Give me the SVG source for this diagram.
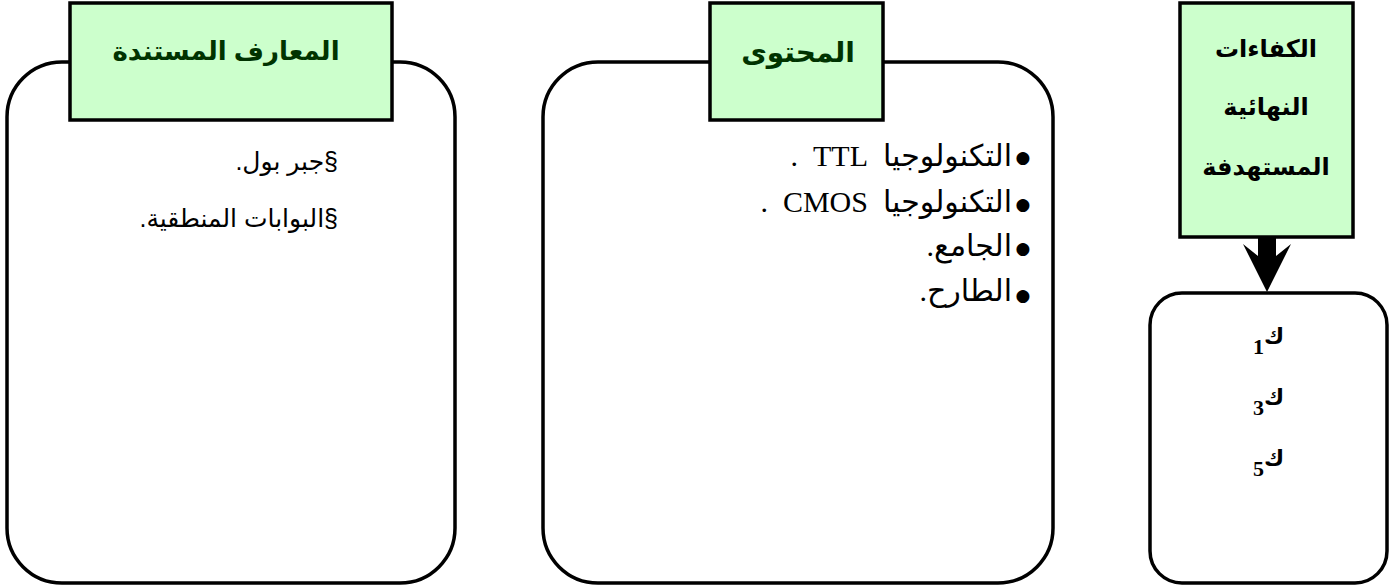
<svg xmlns="http://www.w3.org/2000/svg" width="1394" height="588" viewBox="0 0 1394 588">
<style>
.panel{fill:#fff;stroke:#000;stroke-width:3.5}
.head{fill:#ccffcc;stroke:#000;stroke-width:3.5}
.title{font-family:"Liberation Sans","DejaVu Sans",sans-serif;font-weight:bold;fill:#003300;text-anchor:middle}
.ttl2{font-family:"Liberation Sans","DejaVu Sans",sans-serif;font-weight:bold;font-size:24px;fill:#000;text-anchor:middle}
.sans{font-family:"Liberation Sans","DejaVu Sans",sans-serif;font-size:25px;fill:#000}
.serif{font-family:"Liberation Serif","DejaVu Sans",serif;font-size:30px;fill:#000;white-space:pre}
.bul{font-family:"DejaVu Sans",sans-serif;font-size:17px;fill:#000;text-anchor:middle}
.k{font-family:"DejaVu Sans",sans-serif;font-weight:bold;font-size:22px;fill:#000}
.d{font-family:"Liberation Serif",serif;font-weight:bold;font-size:22px;fill:#000;text-anchor:end}
</style>
<rect width="1394" height="588" fill="#fff"/>
<g id="node-prior-knowledge">
<rect class="panel" x="7" y="62" width="448" height="521" rx="55" ry="55"/>
<rect class="head" x="70" y="3" width="322" height="117"/>
<text class="title" x="226" y="60" font-size="26" direction="rtl">المعارف المستندة</text>
<text class="sans" x="338" y="170" direction="rtl" text-anchor="start">§جبر بول.</text>
<text class="sans" x="338" y="227" direction="rtl" text-anchor="start">§البوابات المنطقية.</text>
</g>
<g id="node-content">
<rect class="panel" x="543" y="62" width="510" height="521" rx="55" ry="55"/>
<rect class="head" x="710" y="3" width="173" height="117"/>
<text class="title" x="798" y="62" font-size="28" direction="rtl">المحتوى</text>
<text class="bul" x="1023" y="163">●</text>
<text class="serif" x="1012" y="166" direction="rtl" text-anchor="start" xml:space="preserve">التكنولوجيا  TTL  .</text>
<text class="bul" x="1023" y="210">●</text>
<text class="serif" x="1012" y="212" direction="rtl" text-anchor="start" xml:space="preserve">التكنولوجيا  CMOS  .</text>
<text class="bul" x="1023" y="254">●</text>
<text class="serif" x="1012" y="256" direction="rtl" text-anchor="start">الجامع.</text>
<text class="bul" x="1023" y="301">●</text>
<text class="serif" x="1012" y="301" direction="rtl" text-anchor="start">الطارح.</text>
</g>
<g id="node-competencies">
<rect class="head" x="1180" y="3" width="173" height="234"/>
<text class="ttl2" x="1266" y="57" direction="rtl">الكفاءات</text>
<text class="ttl2" x="1266" y="115" direction="rtl">النهائية</text>
<text class="ttl2" x="1266" y="175" direction="rtl">المستهدفة</text>
</g>
<g id="node-codes">
<rect class="panel" x="1150" y="293" width="237" height="290" rx="32" ry="32"/>
<text class="k" x="1264" y="344">ك</text><text class="d" x="1264" y="354">1</text>
<text class="k" x="1264" y="405">ك</text><text class="d" x="1264" y="415">3</text>
<text class="k" x="1264" y="466">ك</text><text class="d" x="1264" y="476">5</text>
</g>
<g id="connectors">
<polygon points="1258,237 1276,237 1276,256 1291,244 1267,292 1243,244 1258,256" fill="#000"/>
</g>
</svg>
